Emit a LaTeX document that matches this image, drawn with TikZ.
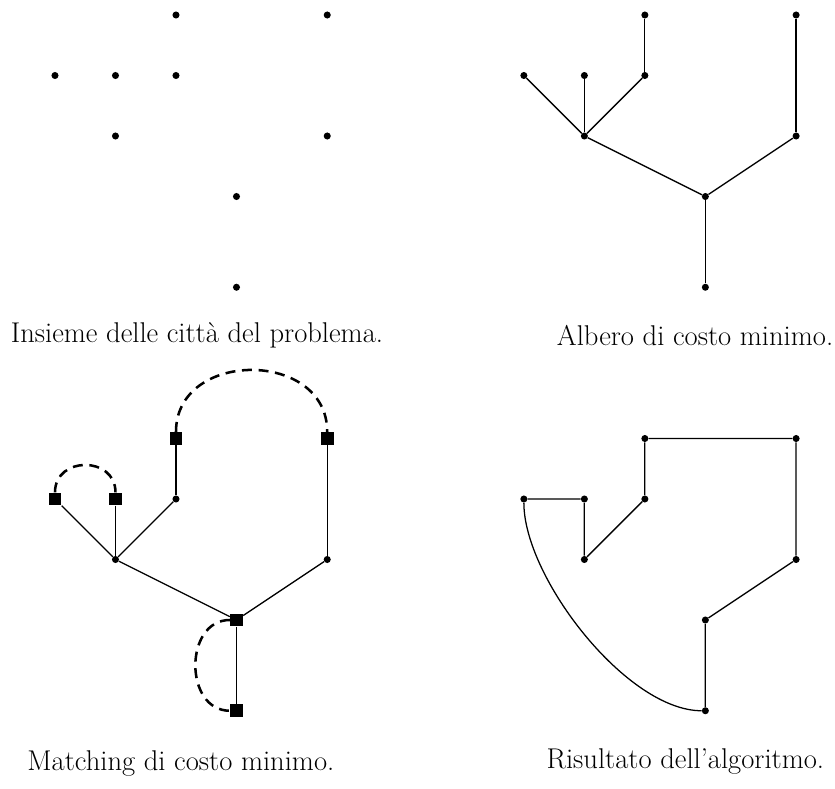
\documentclass[tikz,border=0pt]{standalone}
\usepackage{tikz}
\usetikzlibrary{positioning}

\begin{document}
\begin{tikzpicture}[
  x=1.6cm,y=-1.6cm,
  citta/.style={circle,fill=black,inner sep=0pt,minimum size=5.3pt},
  dispari/.style={rectangle,fill=black,inner sep=0pt,minimum size=9.6pt},
  lato/.style={line width=0.95pt},
  match/.style={line width=1.9pt,dash pattern=on 7.5pt off 5pt},
  didascalia/.style={font=\fontsize{21.5}{26}\selectfont,anchor=base}
]
\useasboundingbox (-0.909,-0.248) rectangle (12.893,12.793);

% le quattro copie delle citta'
\foreach \p/\dx/\dy in {s/0/0,t/7.75/0,r/7.75/7}{
  \foreach \n/\x/\y in {A/2/0,B/4.5/0,C/0/1,D/1/1,E/2/1,F/1/2,G/4.5/2,H/3/3,I/3/4.5}
    \node[citta] (\p\n) at (\x+\dx,\y+\dy) {};
}
% matching: i vertici di grado dispari sono quadrati
\foreach \n/\x/\y in {A/2/0,B/4.5/0,C/0/1,D/1/1,H/3/3,I/3/4.5}
  \node[dispari] (m\n) at (\x,\y+7) {};
\foreach \n/\x/\y in {E/2/1,F/1/2,G/4.5/2}
  \node[citta] (m\n) at (\x,\y+7) {};

% albero di costo minimo
\foreach \p in {t,m}{
  \draw[lato] (\p C)--(\p F);
  \draw[lato] (\p D)--(\p F);
  \draw[lato] (\p E)--(\p F);
  \draw[lato] (\p E)--(\p A);
  \draw[lato] (\p F)--(\p H);
  \draw[lato] (\p H)--(\p G);
  \draw[lato] (\p G)--(\p B);
  \draw[lato] (\p H)--(\p I);
}
\draw[match] (mC) to[out=90,in=90,looseness=1.55] (mD);
\draw[match] (mA) to[out=90,in=90,looseness=1.4] (mB);
\draw[match] (mH) to[out=180,in=180,looseness=1.3] (mI);

% risultato
\draw[lato] (rC)--(rD)--(rF)--(rE)--(rA)--(rB)--(rG)--(rH)--(rI);
\draw[lato] (rI) to[out=180,in=-90,looseness=0.7] (rC);

\node[didascalia] (cs) at (2.347,5.42) {Insieme delle città del problema.};
\node[didascalia] (ct) at (10.58,5.455) {Albero di costo minimo.};
\node[didascalia] (cm) at (2.08,12.48) {Matching di costo minimo.};
\node[didascalia] (cr) at (10.42,12.45) {Risultato dell'algoritmo.};
\end{tikzpicture}
\end{document}
